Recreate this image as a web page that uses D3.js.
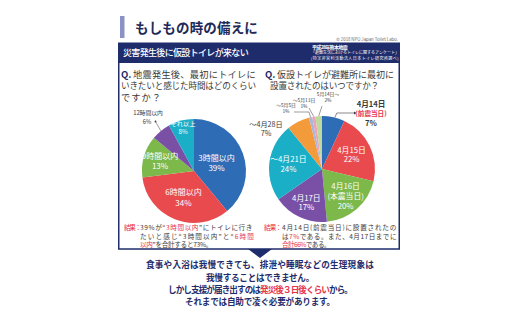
<!DOCTYPE html>
<html><head><meta charset="utf-8">
<script src="https://cdn.jsdelivr.net/npm/d3@7/dist/d3.min.js"></script>
<style>
body{margin:0;background:#fff}
svg{display:block;font-family:"Noto Sans CJK JP","Noto Sans",sans-serif}
</style>
</head><body>
<svg id="chart" width="520" height="323"></svg>
<script>
// Survey data: Kumamoto earthquake 2016, toilet use after the disaster
const leftCategories = ["3時間以内", "6時間以内", "9時間以内", "12時間以内", "それ以上"];
const leftValues = [39, 34, 13, 6, 8];

const rightCategories = ["4月14日", "4月15日", "4月16日", "4月17日", "～4月21日", "～4月28日", "～5月5日", "～5月13日", "5月14日～"];
const rightNotes = ["(前震当日)", "", "(本震当日)", "", "", "", "", "", ""];
const rightValues = [7, 22, 20, 17, 24, 7, 1, 1, 2];

const leftColors = ["#2f6cb6", "#e84a4d", "#7cb84a", "#7a50a7", "#1aaec7"];
const rightColors = ["#2f6cb6", "#e84a4d", "#7cb84a", "#7a50a7", "#1aaec7", "#f39a3b", "#a9b5dc", "#eba3b6", "#bdd99b"];

const NAVY = "#1f2c6b", DARK = "#3a3a3a", RED = "#e6344a";

const svg = d3.select("#chart");

// stretch or tighten a text to a given width through letter spacing
function fit(t, len) {
  const w = t.node().getComputedTextLength();
  const n = t.text().length;
  if (n > 1) t.attr("letter-spacing", (len - w) / n);
  return t;
}

function txt(g, x, y, s, o = {}) {
  const t = g.append("text").attr("x", x).attr("y", y).text(s)
    .attr("font-size", o.size || 8).attr("fill", o.fill || DARK)
    .attr("font-weight", o.weight || 400).attr("text-anchor", o.anchor || "start");
  if (o.len) fit(t, o.len);
  return t;
}

// ---- Title ----
svg.append("rect").attr("x", 120).attr("y", 16).attr("width", 4.5).attr("height", 22).attr("fill", "#8b93c6");
txt(svg, 135, 32.5, "もしもの時の備えに", {size: 13.5, weight: 700, fill: "#1f2a57", len: 123});
txt(svg, 398, 40.5, "© 2018 NPO Japan Toilet Labo.", {size: 4.3, fill: "#666", anchor: "end"});

// ---- Header band ----
svg.append("rect").attr("x", 118).attr("y", 42.5).attr("width", 282).attr("height", 20.5).attr("fill", NAVY);
txt(svg, 123, 56, "災害発生後に仮設トイレが来ない", {size: 9, weight: 500, fill: "#fff", len: 125});
txt(svg, 312, 48.8, "平成28年熊本地震", {size: 5, weight: 700, fill: "#fff", len: 35});
txt(svg, 311, 54.4, "「避難生活におけるトイレに関するアンケート」", {size: 4, fill: "#fff", len: 88});
txt(svg, 311, 59.8, "(特定非営利活動法人日本トイレ研究所調べ)", {size: 4, fill: "#fff", len: 88});

// ---- Panel frame ----
svg.append("rect").attr("x", 118.75).attr("y", 62).attr("width", 280.5).attr("height", 187)
  .attr("fill", "none").attr("stroke", NAVY).attr("stroke-width", 1.5);
svg.append("path").attr("d", "M248,249 L272,249 L260,258 Z").attr("fill", NAVY);

// ---- Questions ----
txt(svg, 121, 77.5, "Q.", {size: 9.5, weight: 700, fill: NAVY});
txt(svg, 133, 77.5, "地震発生後、最初にトイレに", {size: 9.2, len: 123});
txt(svg, 121, 89, "いきたいと感じた時間はどのくらい", {size: 8.6, len: 135});
txt(svg, 121, 100.5, "ですか？", {size: 9.2, len: 41});

txt(svg, 265, 77.5, "Q.", {size: 9.5, weight: 700, fill: NAVY});
txt(svg, 277, 77.5, "仮設トイレが避難所に最初に", {size: 9, len: 117});
txt(svg, 270, 89, "設置されたのはいつですか？", {size: 8.6, len: 109});

// ---- Pie helper ----
function pieChart(cx, cy, r, values, colors) {
  const g = svg.append("g").attr("transform", `translate(${cx},${cy})`);
  const arcs = d3.pie().sort(null).value(d => d)(values);
  const arc = d3.arc().innerRadius(0).outerRadius(r);
  g.selectAll("path").data(arcs).join("path").attr("d", arc).attr("fill", (d, i) => colors[i]);
  return {g, arcs, r};
}
const polar = (rad, a) => [rad * Math.sin(a), -rad * Math.cos(a)];
const mid = d => (d.startAngle + d.endAngle) / 2;

function innerLabel(p, i, k, lines, size, lh) {
  const [x, y] = polar(p.r * k, mid(p.arcs[i]));
  const y0 = y - (lines.length - 1) * lh / 2 + size * 0.35;
  lines.forEach((s, j) => txt(p.g, x, y0 + j * lh, s, {size, fill: "#fff", anchor: "middle"}));
}

// ---- Left pie ----
const L = pieChart(194, 171, 52, leftValues, leftColors);
const leftInside = [[0, 0.46, 8], [1, 0.55, 8], [2, 0.68, 8], [4, 0.85, 6.2]];
leftInside.forEach(([i, k, sz]) =>
  innerLabel(L, i, k, [leftCategories[i], leftValues[i] + "%"], sz, sz * 1.3));

// small slice label with leader
{
  const i = 3, [ex, ey] = polar(L.r, mid(L.arcs[i]));
  txt(L.g, -46, -56, leftCategories[i], {size: 5.8, anchor: "middle"});
  txt(L.g, -47, -47.5, leftValues[i] + "%", {size: 5.8, anchor: "middle"});
  L.g.append("circle").attr("cx", -38.5).attr("cy", -49.5).attr("r", 0.9).attr("fill", DARK);
  L.g.append("line").attr("x1", -38.5).attr("y1", -49.5).attr("x2", ex).attr("y2", ey)
    .attr("stroke", DARK).attr("stroke-width", 0.5);
}

// ---- Right pie ----
const R = pieChart(322, 169, 53, rightValues, rightColors);
[[1, 0.62], [2, 0.68], [3, 0.7], [4, 0.64]].forEach(([i, k]) => {
  const lines = [rightCategories[i]];
  if (rightNotes[i]) lines.push(rightNotes[i]);
  lines.push(rightValues[i] + "%");
  innerLabel(R, i, k, lines, 7.8, 9.6);
});

// 4月14日 callout
{
  const [ex, ey] = polar(R.r, 14 * Math.PI / 180);
  R.g.append("polyline").attr("points", `${ex},${ey} ${ex + 2},-56 32,-56`)
    .attr("fill", "none").attr("stroke", DARK).attr("stroke-width", 0.6);
  R.g.append("path").attr("d", "M32,-57.5 L34.5,-56 L32,-54.5 Z").attr("fill", DARK);
  txt(R.g, 49, -62, rightCategories[0], {size: 7.6, weight: 700, anchor: "middle"});
  txt(R.g, 49, -53, rightNotes[0], {size: 6.6, weight: 700, fill: RED, anchor: "middle"});
  txt(R.g, 49, -43.3, rightValues[0] + "%", {size: 7.6, weight: 700, anchor: "middle"});
}
// ～4月28日
txt(R.g, -56, -42, rightCategories[5], {size: 7.2, anchor: "middle"});
txt(R.g, -56, -33, rightValues[5] + "%", {size: 7.2, anchor: "middle"});

// tiny slices
const tiny = [
  {i: 6, lx: -36, ly: -62.5, pts: [[-28, -57], [-13, -57]]},
  {i: 7, lx: -18, ly: -67.5, pts: [[-13, -61]]},
  {i: 8, lx: 6, ly: -73, pts: [[0, -63]]}
];
tiny.forEach(t => {
  const [ex, ey] = polar(R.r, mid(R.arcs[t.i]));
  txt(R.g, t.lx, t.ly, rightCategories[t.i], {size: 4.8, anchor: "middle"});
  txt(R.g, t.lx, t.ly + 6, rightValues[t.i] + "%", {size: 4.8, anchor: "middle"});
  const pts = t.pts.concat([[ex, ey]]);
  R.g.append("polyline").attr("points", pts.map(p => p.join(",")).join(" "))
    .attr("fill", "none").attr("stroke", DARK).attr("stroke-width", 0.5);
});

// ---- Result notes ----
function rich(g, x, y, parts, o = {}) {
  const t = g.append("text").attr("x", x).attr("y", y).attr("font-size", o.size || 7)
    .attr("font-weight", o.weight || 400).attr("text-anchor", o.anchor || "start");
  const base = o.fill || DARK;
  parts.forEach(([s, red]) => t.append("tspan").text(s).attr("fill", red ? RED : base));
  if (o.len) fit(t, o.len);
  return t;
}
txt(svg, 124, 229.5, "結果：", {size: 6.6, fill: RED, len: 16});
rich(svg, 140, 229.5, [["39%が“"], ["3時間以内", true], ["”にトイレに行き"]], {size: 6.6, len: 113});
rich(svg, 140, 238.5, [["たいと感じ“3時間以内”と“"], ["6時間", true]], {size: 6.6, len: 115});
rich(svg, 140, 247, [["以内", true], ["”を合計すると73%。"]], {size: 6.6, len: 72});

txt(svg, 264, 229.5, "結果：", {size: 6.6, fill: RED, len: 17});
rich(svg, 282, 229.5, [["4月14日(前震当日)に設置されたの"]], {size: 6.6, len: 115});
rich(svg, 282, 238.5, [["は"], ["7%", true], ["である。また、4月17日までに"]], {size: 6.6, len: 115});
rich(svg, 282, 247, [["合計66%", true], ["である。"]], {size: 6.6, len: 48});

// ---- Closing message ----
const msg = svg.append("g");
const lineOpt = len => ({size: 8.6, weight: 700, fill: NAVY, anchor: "middle", len});
rich(msg, 260, 268.3, [["食事や入浴は我慢できても、排泄や睡眠などの生理現象は"]], lineOpt(228));
rich(msg, 260, 280.6, [["我慢することはできません。"]], lineOpt(108));
rich(msg, 260, 293, [["しかし支援が届き出すのは"], ["発災後３日後くらい", true], ["から。"]], lineOpt(184));
rich(msg, 260, 305.4, [["それまでは自助で凌ぐ必要があります。"]], lineOpt(150));
</script>
</body></html>
